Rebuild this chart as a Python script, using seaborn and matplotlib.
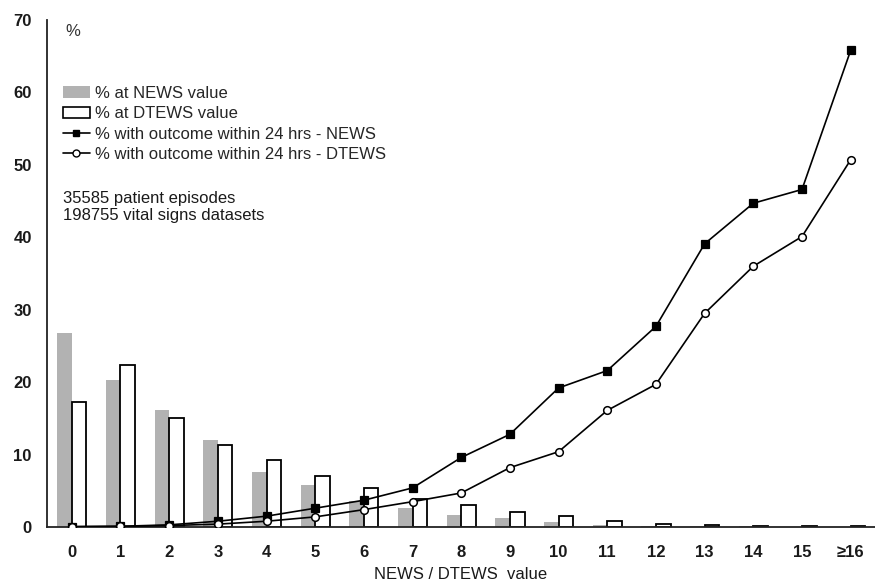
import numpy as np
import pandas as pd
import matplotlib
matplotlib.use("Agg")
import matplotlib.pyplot as plt
from matplotlib.lines import Line2D
from matplotlib.patches import Patch
import seaborn as sns

# Score categories on the x axis
scores = ["0", "1", "2", "3", "4", "5", "6", "7", "8", "9", "10",
          "11", "12", "13", "14", "15", "≥16"]

# % of observations at each score
pct_at_news = [26.8, 20.3, 16.2, 12.0, 7.6, 5.8, 3.6, 2.6, 1.7, 1.2, 0.7,
               0.25, 0.15, 0.1, 0.08, 0.05, 0.05]
pct_at_dtews = [17.2, 22.4, 15.0, 11.3, 9.3, 7.0, 5.4, 3.9, 3.0, 2.1, 1.5,
                0.9, 0.45, 0.25, 0.15, 0.1, 0.1]

# % with outcome within 24 hrs at each score
outcome_news = [0.05, 0.1, 0.3, 0.8, 1.5, 2.6, 3.7, 5.4, 9.6, 12.8, 19.2,
                21.6, 27.7, 39.1, 44.7, 46.6, 65.8]
outcome_dtews = [0.05, 0.1, 0.2, 0.4, 0.8, 1.4, 2.4, 3.5, 4.7, 8.2, 10.4,
                 16.1, 19.7, 29.5, 36.0, 40.1, 50.7]

sns.set_style("white")
plt.rcParams["font.family"] = ["Liberation Sans", "DejaVu Sans"]

bars = pd.DataFrame({
    "score": scores * 2,
    "pct": pct_at_news + pct_at_dtews,
    "system": ["NEWS"] * len(scores) + ["DTEWS"] * len(scores),
})
lines = pd.DataFrame({
    "score": scores * 2,
    "pct": outcome_news + outcome_dtews,
    "system": ["NEWS"] * len(scores) + ["DTEWS"] * len(scores),
})

fig = plt.figure(figsize=(8.75, 5.81), dpi=100)
ax = fig.add_axes([0.0537, 0.0929, 0.9463, 0.8727])

grey = "#b2b2b2"
sns.barplot(data=bars, x="score", y="pct", hue="system", order=scores,
            hue_order=["NEWS", "DTEWS"], palette={"NEWS": grey, "DTEWS": "white"},
            width=0.6, gap=0, errorbar=None, legend=False, ax=ax, zorder=2)
for cont, ec, lw in zip(ax.containers, ["none", "black"], [0, 1.3]):
    for p in cont:
        p.set_edgecolor(ec)
        p.set_linewidth(lw)

sns.pointplot(data=lines, x="score", y="pct", hue="system", order=scores,
              hue_order=["NEWS", "DTEWS"], palette={"NEWS": "black", "DTEWS": "black"},
              markers=["s", "o"], linestyles=["-", "-"], dodge=False,
              errorbar=None, legend=False, linewidth=1.2, markersize=5, ax=ax)
for ln in ax.lines:
    ln.set_zorder(4)
    if ln.get_marker() == "o":
        ln.set_markerfacecolor("white")
        ln.set_markeredgecolor("black")
        ln.set_markeredgewidth(1.1)
        ln.set_markersize(5.5)
    elif ln.get_marker() == "s":
        ln.set_markersize(5.5)

ax.set_xlim(-0.51, 16.39)
ax.set_ylim(0, 70)
ax.set_yticks(np.arange(0, 71, 10))
ax.set_xticks(range(len(scores)))
ax.set_xticklabels(scores)
ax.set_xticks(np.arange(-0.5, 16.6, 1), minor=True)
ax.tick_params(axis="x", which="major", length=0, pad=13, labelsize=12)
ax.tick_params(axis="x", which="minor", length=4, width=1, direction="out", color="#333333")
ax.tick_params(axis="y", length=5, width=1, direction="out", labelsize=12, pad=6, color="#333333")
for lab in ax.get_xticklabels() + ax.get_yticklabels():
    lab.set_fontweight("bold")
    lab.set_color("#1a1a1a")

for s in ["top", "right"]:
    ax.spines[s].set_visible(False)
for s in ["left", "bottom"]:
    ax.spines[s].set_color("#222222")
    ax.spines[s].set_linewidth(1.3)

ax.set_xlabel("NEWS / DTEWS  value", fontsize=12, labelpad=5, color="#1a1a1a")
ax.set_ylabel("")

ax.text(0.0217, 0.978, "%", transform=ax.transAxes, fontsize=12, va="center", color="#333333")

handles = [
    Patch(facecolor=grey, edgecolor="none", label="% at NEWS value"),
    Patch(facecolor="white", edgecolor="black", linewidth=1.2, label="% at DTEWS value"),
    Line2D([], [], color="black", lw=1.2, marker="s", markersize=4.5,
           label="% with outcome within 24 hrs - NEWS"),
    Line2D([], [], color="black", lw=1.2, marker="o", markersize=5,
           markerfacecolor="white", label="% with outcome within 24 hrs - DTEWS"),
]
leg = ax.legend(handles=handles, loc="upper left", bbox_to_anchor=(0.0193, 0.870),
                frameon=False, fontsize=12, handlelength=1.6, handleheight=0.7,
                handletextpad=0.3, labelspacing=0.32, borderaxespad=0, borderpad=0)

ax.text(0.0193, 0.663, "35585 patient episodes\n198755 vital signs datasets",
        transform=ax.transAxes, fontsize=12, va="top", linespacing=1.2, color="#1a1a1a")

fig.savefig("out.png", dpi=100)
